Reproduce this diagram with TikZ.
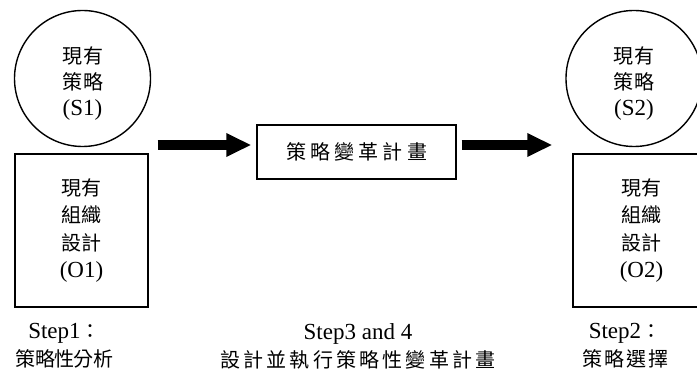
\documentclass[tikz,border=0pt]{standalone}
\usepackage{fontspec}
\setmainfont{Liberation Serif}
\newfontfamily\cjkfont{Noto Sans CJK TC}
% Chinese text with adjustable tracking
\newcommand\zh[2][10]{{\cjkfont\fontsize{20}{20}\selectfont\addfontfeature{LetterSpace=#1}#2}}
\usetikzlibrary{arrows.meta}

\tikzset{
  base/.style={font=\fontsize{23}{26}\selectfont, align=center, text=black},
  circ/.style={circle, draw, line width=1.4pt, minimum size=136pt, inner sep=0pt},
  rectbox/.style={base, rectangle, draw, line width=1.4pt, inner sep=0pt,
                  font=\fontsize{23}{27.5}\selectfont},
  caption/.style={base, font=\fontsize{23}{28}\selectfont, inner sep=0pt},
  bigarrow/.style={line width=10pt, line cap=butt,
                   -{Triangle[length=25pt,width=22pt]}},
}

\begin{document}
\begin{tikzpicture}[x=1pt,y=1pt]
  \useasboundingbox[fill=white] (0,0) rectangle (697,378);

  % current state: strategy and organisation
  \node[circ] (s1) at (82.5,299.5) {};
  \node[base, inner sep=0pt] (s1t) at ([yshift=-5pt]s1.center)
    {\zh[5]{現有}\\\zh[5]{策略}\\(S1)};
  \node[rectbox, minimum width=133pt, minimum height=153pt] (o1) at (81.5,147.5)
    {\zh[5]{現有}\\\zh[5]{組織}\\\zh[5]{設計}\\(O1)};

  % change plan
  \node[rectbox, minimum width=199pt, minimum height=54pt] (plan) at (356.5,226)
    {\zh[21]{策略變革計畫}};

  % target state
  \node[circ] (s2) at (634,299.5) {};
  \node[base, inner sep=0pt] (s2t) at ([yshift=-5pt]s2.center)
    {\zh[5]{現有}\\\zh[5]{策略}\\(S2)};
  \node[rectbox, minimum width=137pt, minimum height=153pt] (o2) at (641.5,147.5)
    {\zh[5]{現有}\\\zh[5]{組織}\\\zh[5]{設計}\\(O2)};

  % flow arrows
  \coordinate (a1) at ([yshift=7pt]plan.west);
  \coordinate (a2) at ([yshift=7pt]plan.east);
  \draw[bigarrow, shorten <=9pt, shorten >=5pt] (o1.east |- a1) -- (a1);
  \draw[bigarrow, shorten <=5pt, shorten >=20pt] (a2) -- (o2.west |- a2);

  % step captions
  \node[caption] (c1) at (64.5,32) {Step1\zh[0]{：}\\\zh[-3]{策略性分析}};
  \node[caption] (c3) at (358,32) {Step3 and 4\\\zh[16]{設計並執行策略性變革計畫}};
  \node[caption] (c2) at (625,32) {Step2\zh[0]{：}\\\zh[10]{策略選擇}};
\end{tikzpicture}
\end{document}
